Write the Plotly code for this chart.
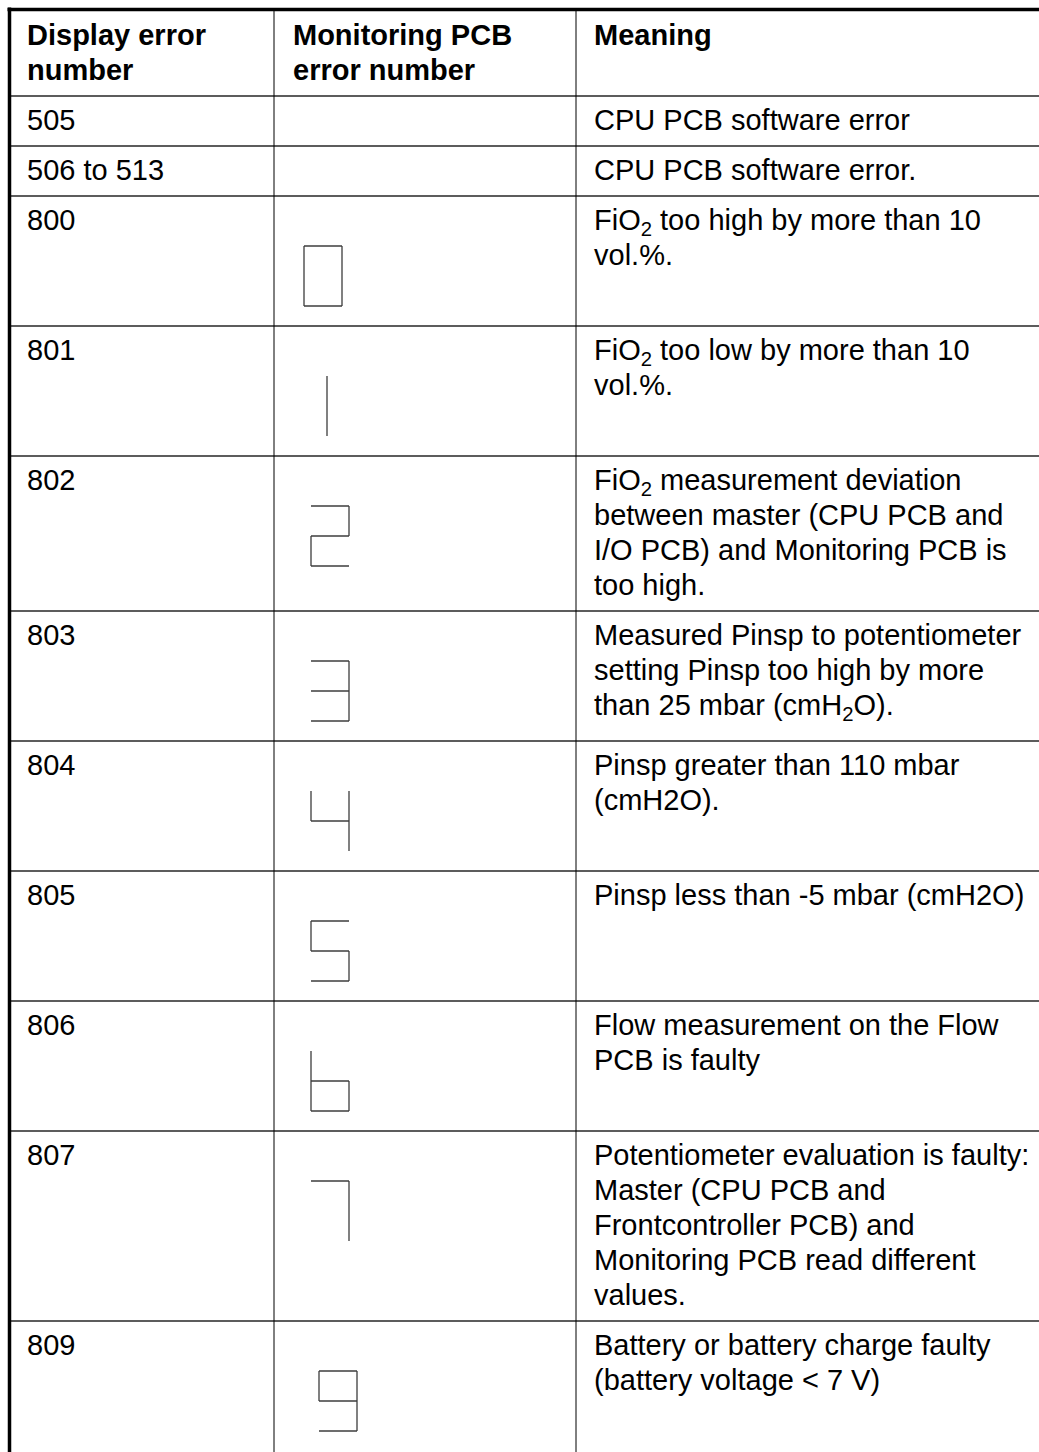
import plotly.graph_objects as go

# ---------------- data ----------------
header = [["Display error", "number"], ["Monitoring PCB", "error number"], ["Meaning"]]
display_numbers = ["505", "506 to 513", "800", "801", "802", "803", "804", "805", "806", "807", "809"]
monitoring_digits = [None, None, 0, 1, 2, 3, 4, 5, 6, 7, 9]
meanings = [
    ["CPU PCB software error"],
    ["CPU PCB software error."],
    ["FiO<sub>2</sub> too high by more than 10", "vol.%."],
    ["FiO<sub>2</sub> too low by more than 10", "vol.%."],
    ["FiO<sub>2</sub> measurement deviation", "between master (CPU PCB and",
     "I/O PCB) and Monitoring PCB is", "too high."],
    ["Measured Pinsp to potentiometer", "setting Pinsp too high by more",
     "than 25 mbar (cmH<sub>2</sub>O)."],
    ["Pinsp greater than 110 mbar", "(cmH2O)."],
    ["Pinsp less than -5 mbar (cmH2O)"],
    ["Flow measurement on the Flow", "PCB is faulty"],
    ["Potentiometer evaluation is faulty:", "Master (CPU PCB and",
     "Frontcontroller PCB) and", "Monitoring PCB read different", "values."],
    ["Battery or battery charge faulty", "(battery voltage &lt; 7 V)"],
]
# seven-segment composition (a top, b upper-right, c lower-right, d bottom,
# e lower-left, f upper-left, g middle)
digit_segments = {0: "abcdef", 1: "bc", 2: "abged", 3: "abgcd", 4: "fgbc",
                  5: "afgcd", 6: "fgedc", 7: "abc", 9: "abcdfg"}

# ---------------- layout constants ----------------
W, H = 1039, 1452
FONT = "Liberation Sans, Arial, sans-serif"
FS = 29
LINE = 35
col_x = [9.5, 274, 576]
text_x = [26, 292, 593]
glyph_left = {0: 304, 1: 289, 9: 319}
glyph_left_default = 311
GW, GH, GTOP = 38, 60, 50

fig = go.Figure()
shapes = []
annotations = []

def row_height(nlines, glyph):
    h = nlines * LINE + 15
    if glyph is not None:
        h = max(h, 130)
    return h

def add_lines(x, top, lines, bold=False):
    for i, ln in enumerate(lines):
        txt = f"<b>{ln}</b>" if bold else ln
        annotations.append(dict(
            x=x, y=top + 6.5 + i * LINE, xref="x", yref="y", text=txt,
            showarrow=False, xanchor="left", yanchor="top", borderpad=0,
            font=dict(family=FONT, size=FS, color="#000000")))

# header
y = 11
hh = row_height(max(len(h) for h in header), None)
for c in range(3):
    add_lines(text_x[c], y, header[c], bold=True)
y += hh
shapes.append(dict(type="line", x0=col_x[0], x1=W, y0=y, y1=y, xref="x", yref="y",
                   line=dict(color="#5c5c5c", width=2)))

gx, gy = [], []
for i, num in enumerate(display_numbers):
    dig = monitoring_digits[i]
    n = max(1, len(meanings[i]))
    h = row_height(n, dig)
    add_lines(text_x[0], y, [num])
    add_lines(text_x[2], y, meanings[i])
    if dig is not None:
        L = glyph_left.get(dig, glyph_left_default)
        T = y + GTOP
        R, M, B = L + GW, T + GH / 2, T + GH
        seg = {"a": ((L, T), (R, T)), "b": ((R, T), (R, M)), "c": ((R, M), (R, B)),
               "d": ((L, B), (R, B)), "e": ((L, M), (L, B)), "f": ((L, T), (L, M)),
               "g": ((L, M), (R, M))}
        for s in digit_segments[dig]:
            (x0, y0), (x1, y1) = seg[s]
            gx += [x0, x1, None]
            gy += [y0, y1, None]
    y += h
    if i < len(display_numbers) - 1:
        shapes.append(dict(type="line", x0=col_x[0], x1=W, y0=y, y1=y, xref="x", yref="y",
                           line=dict(color="#5c5c5c", width=2)))

fig.add_trace(go.Scatter(x=gx, y=gy, mode="lines", line=dict(color="#3c3c3c", width=1.3),
                         hoverinfo="skip", showlegend=False))

# column dividers
for cx in col_x[1:]:
    shapes.append(dict(type="line", x0=cx, x1=cx, y0=10, y1=H, xref="x", yref="y",
                       line=dict(color="#000000", width=1)))
# thick outer borders (top and left)
shapes.append(dict(type="line", x0=7.5, x1=W, y0=9.5, y1=9.5, xref="x", yref="y",
                   line=dict(color="#000000", width=3.5)))
shapes.append(dict(type="line", x0=9.5, x1=9.5, y0=7.5, y1=H, xref="x", yref="y",
                   line=dict(color="#000000", width=3.5)))

fig.update_layout(
    width=W, height=H, margin=dict(l=0, r=0, t=0, b=0),
    paper_bgcolor="white", plot_bgcolor="white",
    xaxis=dict(range=[0, W], visible=False, fixedrange=True),
    yaxis=dict(range=[H, 0], visible=False, fixedrange=True),
    shapes=shapes, annotations=annotations, showlegend=False,
)
fig.write_html("out.html", config={"displayModeBar": False},
               post_script="document.body.style.margin='0';document.body.style.overflow='hidden';")
